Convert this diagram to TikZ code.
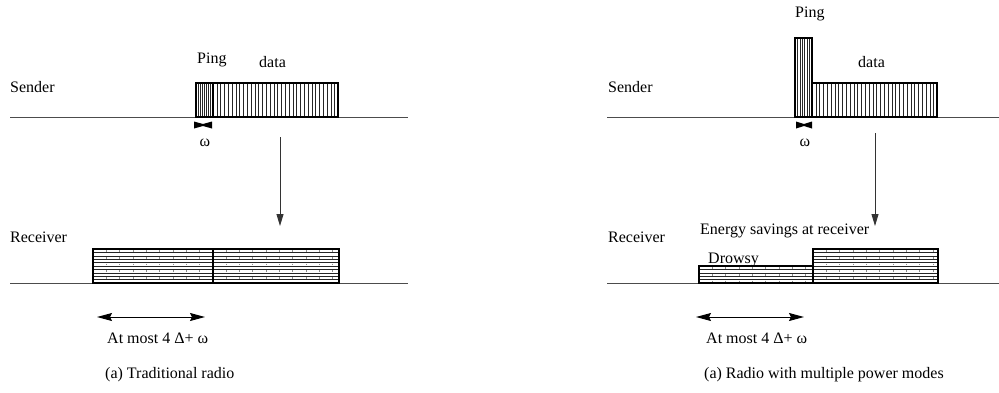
\documentclass[tikz,border=0pt]{standalone}
\usepackage{fontspec}
\setmainfont{Liberation Serif}
\usetikzlibrary{arrows.meta}
\begin{document}
\begin{tikzpicture}[x=1pt,y=-1pt,
  font=\fontsize{16}{19}\selectfont,
  baseln/.style={line width=1pt, draw=black!70},
  boxln/.style={line width=1.1pt, draw=black},
  vhatch/.style={line width=0.55pt, draw=black!85},
  hhatch/.style={line width=0.6pt, draw=black!85},
  tick/.style={line width=0.4pt, draw=black!45},
  lbl/.style={anchor=base west, inner sep=0pt},
  downarrow/.style={line width=0.9pt, draw=black!80, -{Triangle[length=12pt,width=7pt]}},
  spanarrow/.style={line width=1pt, {Stealth[length=15pt,width=8pt,inset=2pt]}-{Stealth[length=15pt,width=8pt,inset=2pt]}},
  omegamark/.style={fill=black, draw=none}]
\useasboundingbox (0,0) rectangle (999,392);

% ================= LEFT PANEL =================
\node[lbl] (sendL) at (10,92) {Sender};
\node[lbl] (recvL) at (10,242) {Receiver};
\coordinate (sLa) at (10,117); \coordinate (sLb) at (408,117);
\coordinate (rLa) at (10,283); \coordinate (rLb) at (408,283);
\draw[baseln] (sLa) -- (sLb);
\draw[baseln] (rLa) -- (rLb);

% ping + data
\foreach \x in {198.1,200.2,...,211.5} \draw[vhatch] (\x,83) -- (\x,117);
\foreach \x in {216.8,220.6,...,335.5} \draw[vhatch] (\x,83) -- (\x,117);
\draw[boxln] (196,117) rectangle (213,83);
\draw[boxln] (213,117) rectangle (338,83);
\node[lbl] (pingL) at (197,63) {Ping};
\node[lbl] (dataL) at (259,67) {data};

% omega marker
\fill[omegamark] (194,121.5) -- (203,124) -- (212,121.5) -- (212,128.5) -- (203,126) -- (194,128.5) -- cycle;
\node[anchor=base, inner sep=0pt] (omL) at (205,146) {ω};

% arrow
\coordinate (aLtop) at (280,137);
\coordinate (aLbot) at (280,226);
\draw[downarrow] (aLtop) -- (aLbot);

% receiver box
\foreach \y in {252.4,255.8,...,281} \draw[hhatch] (93,\y) -- (339,\y);
\foreach \x in {106.3,119.6,...,338} \draw[tick,dash pattern=on 1.7pt off 5.1pt] (\x,250) -- (\x,283);
\draw[boxln] (93,283) rectangle (213,249);
\draw[boxln] (213,283) rectangle (339,249);

% span arrow
\coordinate (spLa) at (97,317);
\coordinate (spLb) at (205,317);
\draw[spanarrow] (spLa) -- (spLb);
\node[lbl] (atmostL) at (107,343) {At most 4 Δ+ ω};
\node[lbl] (capL) at (105,378) {(a) Traditional radio};

% ================= RIGHT PANEL =================
\node[lbl] (sendR) at (608,92) {Sender};
\node[lbl] (recvR) at (608,242) {Receiver};
\coordinate (sRa) at (607,117); \coordinate (sRb) at (999,117);
\coordinate (rRa) at (607,283); \coordinate (rRb) at (999,283);
\draw[baseln] (sRa) -- (sRb);
\draw[baseln] (rRa) -- (rRb);

% tall ping + data
\foreach \x in {797.4,799.8,...,810.5} \draw[vhatch] (\x,38) -- (\x,117);
\foreach \x in {815.8,819.6,...,934.5} \draw[vhatch] (\x,83) -- (\x,117);
\draw[boxln] (795,117) rectangle (812,38);
\draw[boxln] (812,117) rectangle (937,83);
\node[lbl] (pingR) at (795,17) {Ping};
\node[lbl] (dataR) at (858,67) {data};

% omega marker
\fill[omegamark] (796,121.5) -- (804,124) -- (812,121.5) -- (812,128.5) -- (804,126) -- (796,128.5) -- cycle;
\node[anchor=base, inner sep=0pt] (omR) at (805,146) {ω};

% arrow
\coordinate (aRtop) at (875,133);
\coordinate (aRbot) at (875,226);
\draw[downarrow] (aRtop) -- (aRbot);

% receiver boxes
\node[lbl] (energy) at (700,234) {Energy savings at receiver};
\node[lbl] (drowsy) at (708,263) {Drowsy};
\foreach \y in {269.4,272.8,...,281} \draw[hhatch] (699,\y) -- (813,\y);
\foreach \y in {252.4,255.8,...,281} \draw[hhatch] (813,\y) -- (938,\y);
\foreach \x in {712.3,725.6,...,812} \draw[tick,dash pattern=on 1.7pt off 5.1pt] (\x,267) -- (\x,283);
\foreach \x in {826.3,839.6,...,937} \draw[tick,dash pattern=on 1.7pt off 5.1pt] (\x,250) -- (\x,283);
\draw[boxln] (699,283) rectangle (813,266);
\draw[boxln] (813,283) rectangle (938,249);

% span arrow
\coordinate (spRa) at (696,317);
\coordinate (spRb) at (804,317);
\draw[spanarrow] (spRa) -- (spRb);
\node[lbl] (atmostR) at (706,343) {At most 4 Δ+ ω};
\node[lbl] (capR) at (704,378) {(a) Radio with multiple power modes};
\end{tikzpicture}
\end{document}
